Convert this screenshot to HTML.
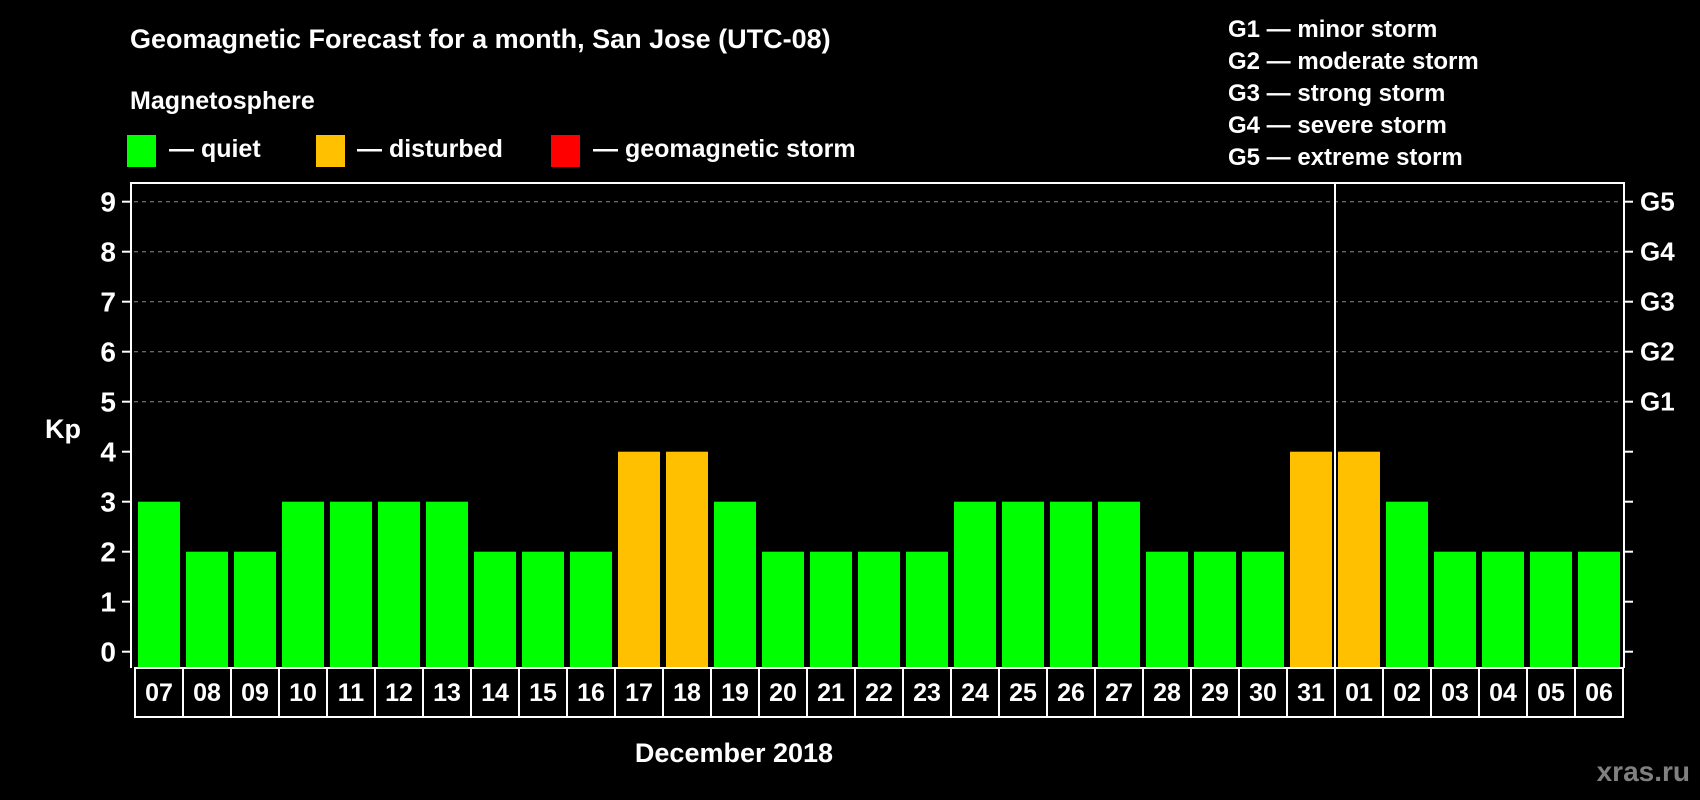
<!DOCTYPE html>
<html><head><meta charset="utf-8"><style>
html,body{margin:0;padding:0;background:#000;}
svg{display:block;font-family:"Liberation Sans",Arial,sans-serif;font-weight:bold;}
</style></head><body>
<svg id="chart" width="1700" height="800" viewBox="0 0 1700 800" xmlns="http://www.w3.org/2000/svg">
<rect x="0" y="0" width="1700" height="800" fill="#000"/>
<text x="130" y="48" fill="#fff" font-size="27">Geomagnetic Forecast for a month, San Jose (UTC-08)</text>
<text x="130" y="109" fill="#fff" font-size="25">Magnetosphere</text>
<rect x="127" y="135" width="29" height="32" fill="#00ff00"/>
<text x="169" y="157" fill="#fff" font-size="25">— quiet</text>
<rect x="316" y="135" width="29" height="32" fill="#ffc000"/>
<text x="357" y="157" fill="#fff" font-size="25">— disturbed</text>
<rect x="551" y="135" width="29" height="32" fill="#ff0000"/>
<text x="593" y="157" fill="#fff" font-size="25">— geomagnetic storm</text>
<g fill="#fff" font-size="24">
<text x="1228" y="37">G1 — minor storm</text>
<text x="1228" y="69">G2 — moderate storm</text>
<text x="1228" y="101">G3 — strong storm</text>
<text x="1228" y="133">G4 — severe storm</text>
<text x="1228" y="165">G5 — extreme storm</text>
</g>
<text x="63" y="438" fill="#fff" font-size="27" text-anchor="middle">Kp</text>
<text x="734" y="762" fill="#fff" font-size="27" text-anchor="middle">December 2018</text>
<text x="1690" y="781" fill="#808080" font-size="28" text-anchor="end">xras.ru</text>
<g id="grid"></g><g id="bars"></g><g id="axes"></g><g id="dates"></g>
</svg>
<script>
const days = ["07","08","09","10","11","12","13","14","15","16","17","18","19","20","21","22","23","24","25","26","27","28","29","30","31","01","02","03","04","05","06"];
const kpValues = [3,2,2,3,3,3,3,2,2,2,4,4,3,2,2,2,2,3,3,3,3,2,2,2,4,4,3,2,2,2,2];
const yTicks = [0,1,2,3,4,5,6,7,8,9];
const gLabels = ["G1","G2","G3","G4","G5"];
const gLevels = [5,6,7,8,9];
const monthBreakIndex = 25;

const NS="http://www.w3.org/2000/svg";
const L=131,R=1624,T=183,B=668, X0=135, PITCH=48;
const y=v=>651.7-v*50;
const x=i=>X0+i*PITCH;
function mk(tag,attrs,parent){const e=document.createElementNS(NS,tag);for(const k in attrs)e.setAttribute(k,attrs[k]);parent.appendChild(e);return e;}
const grid=document.getElementById('grid'),bars=document.getElementById('bars'),axes=document.getElementById('axes'),dates=document.getElementById('dates');
gLevels.forEach((lv,i)=>{
  const ln=mk('line',{x1:L+3,x2:R-3,y1:y(lv),y2:y(lv),stroke:'#8a8a8a','stroke-width':1,'stroke-dasharray':'4 4'},grid);
  
  
  const t=mk('text',{x:1640,y:y(lv)+9,fill:'#fff','font-size':26},axes);t.textContent=gLabels[i];
  
  
});
kpValues.forEach((v,i)=>{
  const col=v>=5?'#ff0000':(v>=4?'#ffc000':'#00ff00');
  const r=mk('rect',{x:x(i)+3,y:y(v),width:42,height:B-y(v),fill:col},bars);
  
  
});
yTicks.forEach(v=>{
  mk('line',{x1:122,x2:L,y1:y(v),y2:y(v),stroke:'#fff','stroke-width':2},axes);
  mk('line',{x1:R,x2:1633,y1:y(v),y2:y(v),stroke:'#fff','stroke-width':2},axes);
  const t=mk('text',{x:116,y:y(v)+10,fill:'#fff','font-size':28,'text-anchor':'end'},axes);t.textContent=v;
  
  
});
const frame=mk('polyline',{points:`${L},${B} ${L},${T} ${R},${T} ${R},${B}`,fill:'none',stroke:'#fff','stroke-width':2},axes);


const sep=mk('line',{x1:x(monthBreakIndex),x2:x(monthBreakIndex),y1:T,y2:B,stroke:'#fff','stroke-width':2},axes);


mk('rect',{x:X0,y:B,width:days.length*PITCH,height:49,fill:'none',stroke:'#fff','stroke-width':2},dates);
days.forEach((d,i)=>{
  if(i>0)mk('line',{x1:x(i),x2:x(i),y1:B,y2:B+49,stroke:'#fff','stroke-width':2},dates);
  const t=mk('text',{x:x(i)+PITCH/2,y:701,fill:'#fff','font-size':25,'text-anchor':'middle'},dates);t.textContent=d;
  
  
});
</script>
</body></html>
